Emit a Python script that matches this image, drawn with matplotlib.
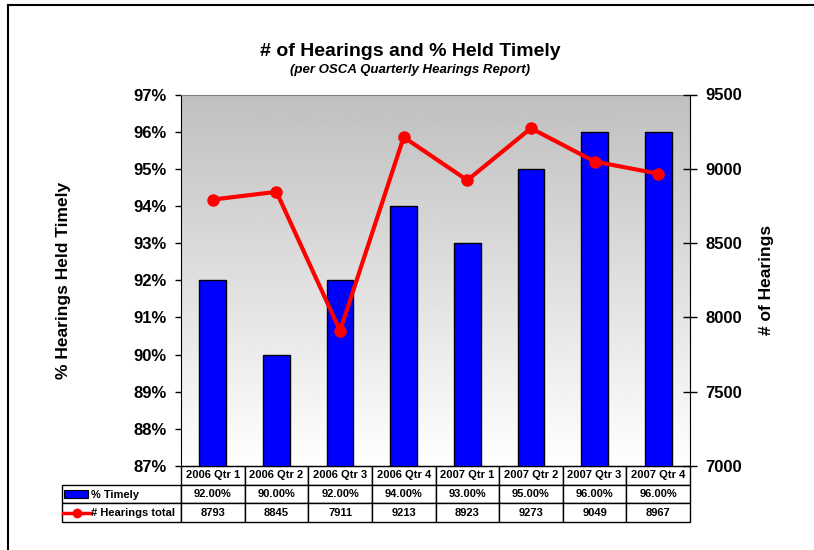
import numpy as np
import matplotlib.pyplot as plt
from matplotlib.lines import Line2D
from matplotlib.patches import Rectangle

plt.rcParams['font.family'] = ['Liberation Sans', 'DejaVu Sans']
plt.rcParams['font.weight'] = 'bold'

quarters = ['2006 Qtr 1', '2006 Qtr 2', '2006 Qtr 3', '2006 Qtr 4',
            '2007 Qtr 1', '2007 Qtr 2', '2007 Qtr 3', '2007 Qtr 4']
pct_timely = [92.0, 90.0, 92.0, 94.0, 93.0, 95.0, 96.0, 96.0]
hearings = [8793, 8845, 7911, 9213, 8923, 9273, 9049, 8967]
series_names = ['% Timely', '# Hearings total']

W, H = 814, 550
fig = plt.figure(figsize=(W / 100, H / 100), dpi=100)

# plot area in pixels
L, R, T, B = 181, 690, 94.5, 466
ax = fig.add_axes([L / W, (H - B) / H, (R - L) / W, (B - T) / H])


def px(x, y):
    # pixel -> axes coords
    return (x - L) / (R - L), (B - y) / (B - T)


# grey -> white gradient background
grad = np.linspace(0.75, 1.0, 256).reshape(-1, 1)
ax.imshow(grad, cmap='gray', vmin=0, vmax=1, extent=[0, 1, 0, 1],
          transform=ax.transAxes, aspect='auto', zorder=0)

x = np.arange(len(quarters))
ax.bar(x, pct_timely, width=0.42, bottom=0, color='#0000ff',
       edgecolor='black', linewidth=1, zorder=2)
ax.set_xlim(-0.5, len(quarters) - 0.5)
ax.set_ylim(87, 97)
ax.set_yticks(np.arange(87, 98, 1))
ax.set_yticklabels(['%d%%' % v for v in range(87, 98)])
ax.set_xticks([])
ax.tick_params(axis='y', direction='out', length=4.3, width=1, pad=5.8,
               labelsize=12)
ax.set_ylabel('% Hearings Held Timely', fontsize=12.5, fontweight='bold')
ax.yaxis.set_label_coords(px(71, 0)[0], 0.5)
for s in ['top', 'right']:
    ax.spines[s].set_color('#808080')
ax.spines['left'].set_color('black')

ax2 = ax.twinx()
ax2.plot(x, hearings, color='#ff0000', linewidth=3, marker='o',
         markersize=8, zorder=3)
ax2.set_ylim(7000, 9500)
ax2.set_yticks(np.arange(7000, 9501, 500))
ax2.tick_params(axis='y', direction='inout', length=10, width=1, pad=6,
                labelsize=12)
ax2.set_ylabel('# of Hearings', fontsize=12.5, fontweight='bold')
ax2.yaxis.set_label_coords(px(759, 0)[0], 0.5)
ax2.spines['right'].set_color('black')
ax2.spines['top'].set_visible(False)
ax2.spines['left'].set_visible(False)
ax2.spines['bottom'].set_visible(False)

# data table below the plot
cell_text = [[''] + ['%.2f%%' % v for v in pct_timely],
             [''] + ['%d' % v for v in hearings]]
col_w = [119] + [(R - L) / len(quarters)] * len(quarters)
tx0, _ = px(62, 0)
tbl = ax.table(cellText=cell_text, colLabels=[''] + quarters,
               colWidths=[w / sum(col_w) for w in col_w],
               cellLoc='center',
               bbox=[tx0, -(522 - B) / (B - T), 1 - tx0, (522 - B) / (B - T)])
tbl.auto_set_font_size(False)
for (r, c), cell in tbl.get_celld().items():
    cell.set_linewidth(1)
    cell.set_edgecolor('black')
    cell.get_text().set_fontsize(8)
    cell.get_text().set_fontweight('bold')
    cell.set_facecolor('white')
tbl[0, 0].visible_edges = ''
tbl[0, 0].set_facecolor('none')

# legend keys inside the row-label cells
bx, by = px(64, 498)
bw = 24 / (R - L)
bh = 8 / (B - T)
ax.add_patch(Rectangle((bx, by), bw, bh, transform=ax.transAxes,
                       facecolor='#0000ff', edgecolor='black', lw=0.8,
                       clip_on=False, zorder=5))
lx0, ly = px(63, 513)
lx1, _ = px(91, 513)
ax.add_line(Line2D([lx0, lx1], [ly, ly], transform=ax.transAxes,
                   color='#ff0000', lw=2.5, clip_on=False, zorder=5))
ax.add_line(Line2D([px(77, 0)[0]], [ly], transform=ax.transAxes,
                   color='#ff0000', marker='o', markersize=6,
                   clip_on=False, zorder=5))
tx, ty1 = px(91, 494.5)
_, ty2 = px(91, 513)
ax.text(tx, ty1, series_names[0], transform=ax.transAxes, fontsize=8,
        fontweight='bold', va='center', ha='left', zorder=6)
ax.text(tx, ty2, series_names[1], transform=ax.transAxes, fontsize=8,
        fontweight='bold', va='center', ha='left', zorder=6)

# titles
fig.text(410 / W, 1 - 51.5 / H, '# of Hearings and % Held Timely',
         fontsize=14, fontweight='bold', ha='center', va='center')
fig.text(410 / W, 1 - 70 / H, '(per OSCA Quarterly Hearings Report)',
         fontsize=9.5, fontweight='bold', style='italic',
         ha='center', va='center')

# outer frame
fig.add_artist(Line2D([8 / W, 1], [1 - 4.5 / H, 1 - 4.5 / H],
                      transform=fig.transFigure, color='black', lw=1.5))
fig.add_artist(Line2D([8 / W, 8 / W], [0, 1 - 4.5 / H],
                      transform=fig.transFigure, color='black', lw=1.5))

fig.savefig('out.png', dpi=100)
